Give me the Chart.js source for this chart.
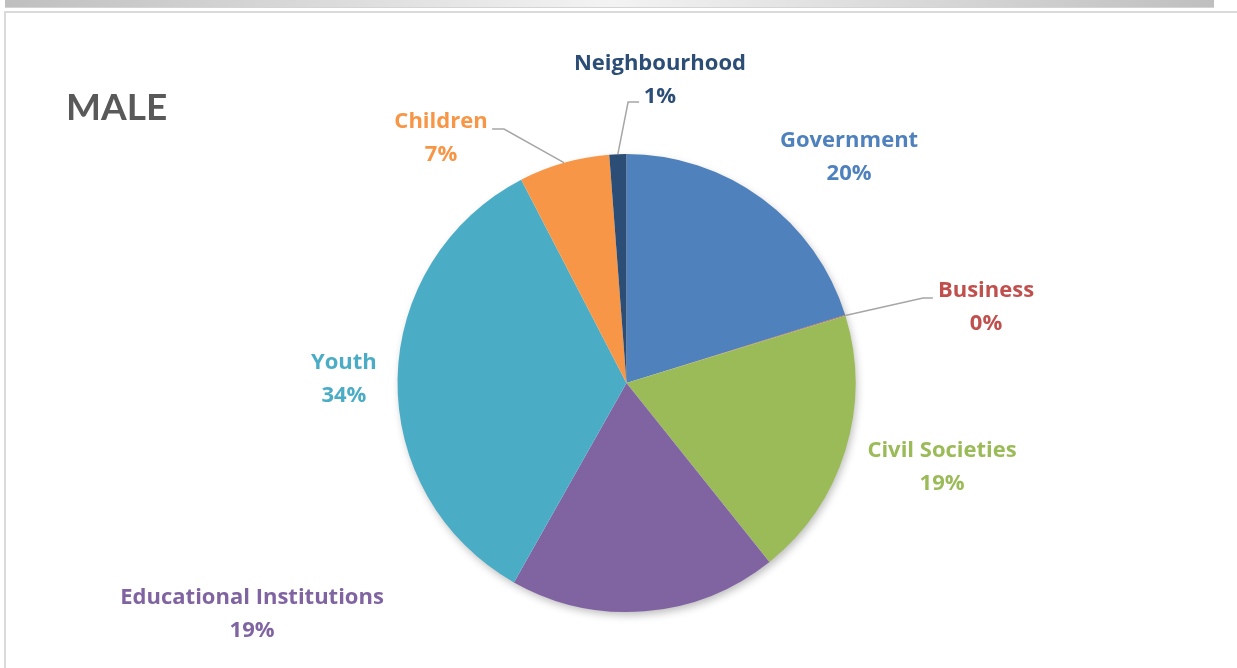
<!DOCTYPE html>
<html>
<head>
<meta charset="utf-8">
<script src="https://cdn.jsdelivr.net/npm/chart.js@4"></script>
<style>
  html, body { margin: 0; padding: 0; background: #fff; overflow: hidden; }
  #topbar {
    position: absolute; left: 5px; top: 0; width: 1209px; height: 7px;
    background: linear-gradient(to right, #bfbfbf, #f3f3f3 50%, #bfbfbf);
    border-bottom: 1px solid #d4d4d4;
  }
  #frame {
    position: absolute; left: 4px; top: 11px; width: 1300px; height: 700px;
    border-top: 2px solid #dadada; border-left: 2px solid #dadada;
  }
  #wrap { position: absolute; left: 0; top: 0; width: 1237px; height: 668px; }
</style>
</head>
<body>
<div id="topbar"></div>
<div id="frame"></div>
<div id="wrap"><canvas id="pie"></canvas></div>
<script>
// chart data
const categories = ['Government', 'Business', 'Civil Societies', 'Educational Institutions', 'Youth', 'Children', 'Neighbourhood'];
const shares = [20.2, 0.05, 19.0, 18.9, 34.2, 6.4, 1.2];
const shareLabels = ['20%', '0%', '19%', '19%', '34%', '7%', '1%'];
const sliceColors = ['#4f81bd', '#c0504d', '#9bbb59', '#8064a2', '#4bacc6', '#f79646', '#2c4d75'];

// label placement, in units of the pie radius from its centre
const labelLayout = [
    { x: 0.972, y: -0.985 },
    { x: 1.570, y: -0.330, bend: { x: 1.295, y: -0.371 }, tail: 1.338 },
    { x: 1.378, y: 0.366 },
    { x: -1.635, y: 1.011 },
    { x: -1.234, y: -0.016 },
    { x: -0.810, y: -1.068, bend: { x: -0.535, y: -1.109 }, tail: -0.587 },
    { x: 0.146, y: -1.321, bend: { x: 0.007, y: -1.227 }, tail: 0.055 }
];

const labelFont = 'bold 22px "Open Sans", Lato, sans-serif';

const pieShadow = {
    id: 'pieShadow',
    beforeDatasetsDraw(chart) {
        const arc = chart.getDatasetMeta(0).data[0];
        if (!arc) return;
        const ctx = chart.ctx;
        ctx.save();
        ctx.shadowColor = 'rgba(0,0,0,0.28)';
        ctx.shadowBlur = 9;
        ctx.shadowOffsetX = 2;
        ctx.shadowOffsetY = 4;
        ctx.fillStyle = '#ffffff';
        ctx.beginPath();
        ctx.arc(arc.x, arc.y, arc.outerRadius - 1, 0, Math.PI * 2);
        ctx.fill();
        ctx.restore();
    }
};

const sliceLabels = {
    id: 'sliceLabels',
    afterDraw(chart) {
        const ctx = chart.ctx;
        const arcs = chart.getDatasetMeta(0).data;
        const cx = arcs[0].x, cy = arcs[0].y, r = arcs[0].outerRadius;

        ctx.save();
        // leader lines
        ctx.strokeStyle = '#a6a6a6';
        ctx.lineWidth = 1.5;
        arcs.forEach((arc, i) => {
            const lay = labelLayout[i];
            if (!lay.bend) return;
            const mid = (arc.startAngle + arc.endAngle) / 2;
            ctx.beginPath();
            ctx.moveTo(cx + Math.cos(mid) * r, cy + Math.sin(mid) * r);
            ctx.lineTo(cx + lay.bend.x * r, cy + lay.bend.y * r);
            ctx.lineTo(cx + lay.tail * r, cy + lay.bend.y * r);
            ctx.stroke();
        });

        // category and percentage text
        ctx.font = labelFont;
        ctx.textAlign = 'center';
        ctx.textBaseline = 'middle';
        categories.forEach((name, i) => {
            const lay = labelLayout[i];
            const x = cx + lay.x * r, y = cy + lay.y * r;
            ctx.fillStyle = sliceColors[i];
            ctx.fillText(name, x, y - 16.5);
            ctx.fillText(shareLabels[i], x, y + 16.5);
        });

        // title
        ctx.fillStyle = '#595959';
        ctx.font = 'bold 37px Lato, "Open Sans", sans-serif';
        ctx.textAlign = 'left';
        ctx.textBaseline = 'alphabetic';
        ctx.fillText('MALE', 66, 120);
        ctx.restore();
    }
};

new Chart(document.getElementById('pie'), {
    type: 'pie',
    data: {
        labels: categories,
        datasets: [{
            data: shares,
            backgroundColor: sliceColors,
            borderWidth: 0,
            hoverOffset: 0
        }]
    },
    options: {
        responsive: true,
        maintainAspectRatio: false,
        animation: false,
        layout: { padding: { top: 154, bottom: 56, left: 397.5, right: 381.5 } },
        plugins: {
            legend: { display: false },
            tooltip: { enabled: false }
        }
    },
    plugins: [pieShadow, sliceLabels]
});
</script>
</body>
</html>
